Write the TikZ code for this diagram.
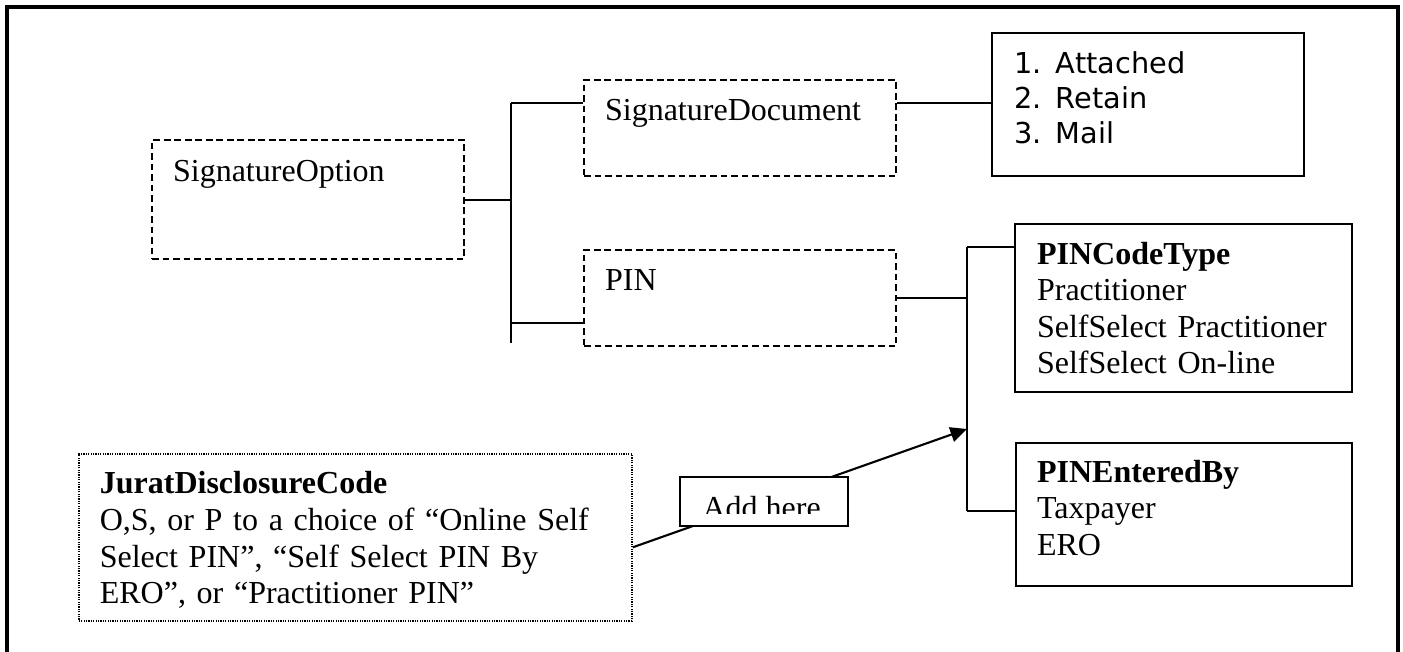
\documentclass[tikz,border=0pt]{standalone}
\usepackage{fontspec}
\setmainfont{Liberation Serif}
\newfontfamily\verdana{DejaVu Sans}
\usepackage{tikz}
\usetikzlibrary{arrows.meta,positioning,calc}
\newcommand{\docfont}{\fontsize{10.67pt}{12.2pt}\selectfont}
\newcommand{\listfont}{\verdana\fontsize{9.6pt}{11.67pt}\selectfont}

\begin{document}
\begin{tikzpicture}[
  x=0.3333pt, y=-0.3333pt,
  box/.style={draw, line width=0.7pt, anchor=north west, align=left, inner ysep=0pt, inner xsep=7pt, font=\docfont},
  dashbox/.style={box, dash pattern=on 2.2pt off 1.3pt},
  dotbox/.style={box, line width=0.55pt, dash pattern=on 0.4pt off 0.4pt},
  link/.style={line width=0.7pt},
  arr/.style={-{Triangle[length=5.5pt,width=5pt]}, line width=0.7pt}
]
\useasboundingbox (0,0) rectangle (1403,651);
\draw[line width=1.1pt] (7,660) -- (7,7) -- (1398,7) -- (1398,660);

\node[dashbox, text width=90pt, text height=13.67pt, text depth=26pt] (sigopt) at (151,139) {SignatureOption};
\node[dashbox, text width=90pt, text height=13.33pt, text depth=18.67pt] (sigdoc) at (583,79) {SignatureDocument};
\node[dashbox, text width=90pt, text height=13.33pt, text depth=18.67pt, below right=24pt and 0pt of sigdoc.south west] (pin) {PIN};
\node[box, inner xsep=7.33pt, text width=89.33pt, text height=13.33pt, text depth=34.33pt, font=\listfont] (methods) at (991,32) {1. Attached\\2. Retain\\3. Mail};
\node[box, inner xsep=7.33pt, text width=97.67pt, text height=13.33pt, text depth=42.67pt] (pincode) at (1014,223) {\textbf{PINCodeType}\\Practitioner\\SelfSelect~Practitioner\\SelfSelect On-line};
\node[box, text width=98pt, text height=13pt, text depth=34.67pt, below right=16.33pt and 0.33pt of pincode.south west] (pinentered) {\textbf{PINEnteredBy}\\Taxpayer\\ERO};
\node[dotbox, text width=170.33pt, text height=13.33pt, text depth=42.33pt] (jurat) at (78,453) {\textbf{JuratDisclosureCode}\\O,S, or P to a choice of ``Online Self\\Select PIN'', ``Self Select PIN By\\ERO'', or ``Practitioner PIN''};

% trunks
\coordinate (t1top) at (511,103);
\coordinate (t1bot) at (511,343);
\coordinate (t2top) at (967,247);
\coordinate (t2bot) at (967,511);
\coordinate (tip) at (967,429);
\coordinate (pinin) at ($(pin.south west)+(0,-24)$);

\draw[link] (t1top) -- (t1bot);
\draw[link] (sigopt.east) -- (sigopt.east -| t1top);
\draw[link] (t1top) -- (t1top -| sigdoc.west);
\draw[link] (t1top -| sigdoc.east) -- (t1top -| methods.west);
\draw[link] (pinin) -- (pinin -| t1top);
\draw[link] (pin.east) -- (pin.east -| t2top);
\draw[link] (t2top) -- (t2bot);
\draw[link] (t2top) -- (t2top -| pincode.west);
\draw[link] (t2bot) -- (t2bot -| pinentered.west);

\draw[arr] ($(jurat.east)+(0,10)$) -- (tip);

\node[draw, line width=0.7pt, fill=white, anchor=north west, minimum width=56pt, minimum height=16.33pt, inner sep=0pt] (add) at (679,476) {};
\begin{scope}
  \clip (add.north west) rectangle (847,513);
  \node[anchor=base west, inner sep=0pt, font=\docfont] (addlbl) at (702,518) {Add here};
\end{scope}
\end{tikzpicture}
\end{document}
